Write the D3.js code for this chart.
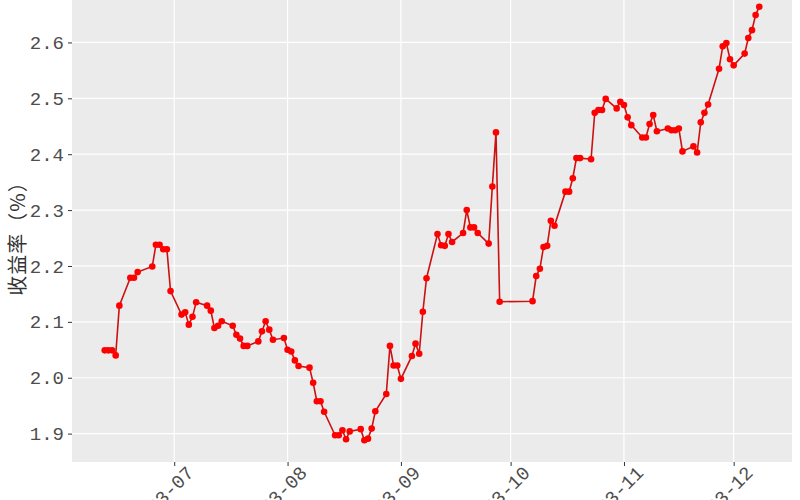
<!DOCTYPE html>
<html>
<head>
<meta charset="utf-8">
<script src="https://cdn.jsdelivr.net/npm/d3@7"></script>
<style>
  body { margin: 0; background: #fff; }
  svg { display: block; }
</style>
</head>
<body>
<div id="chart"></div>
<script>
// 日期与收益率
const fechas = [
  "2023-06-12","2023-06-13","2023-06-14","2023-06-15","2023-06-16","2023-06-19","2023-06-20","2023-06-21",
  "2023-06-25","2023-06-26","2023-06-27","2023-06-28","2023-06-29","2023-06-30",
  "2023-07-03","2023-07-04","2023-07-05","2023-07-06","2023-07-07",
  "2023-07-10","2023-07-11","2023-07-12","2023-07-13","2023-07-14",
  "2023-07-17","2023-07-18","2023-07-19","2023-07-20","2023-07-21",
  "2023-07-24","2023-07-25","2023-07-26","2023-07-27","2023-07-28",
  "2023-07-31","2023-08-01","2023-08-02","2023-08-03","2023-08-04",
  "2023-08-07","2023-08-08","2023-08-09","2023-08-10","2023-08-11",
  "2023-08-14","2023-08-15","2023-08-16","2023-08-17","2023-08-18",
  "2023-08-21","2023-08-22","2023-08-23","2023-08-24","2023-08-25",
  "2023-08-28","2023-08-29","2023-08-30","2023-08-31","2023-09-01",
  "2023-09-04","2023-09-05","2023-09-06","2023-09-07","2023-09-08",
  "2023-09-11","2023-09-12","2023-09-13","2023-09-14","2023-09-15",
  "2023-09-18","2023-09-19","2023-09-20","2023-09-21","2023-09-22",
  "2023-09-25","2023-09-26","2023-09-27","2023-09-28",
  "2023-10-07","2023-10-08","2023-10-09","2023-10-10","2023-10-11","2023-10-12","2023-10-13",
  "2023-10-16","2023-10-17","2023-10-18","2023-10-19","2023-10-20",
  "2023-10-23","2023-10-24","2023-10-25","2023-10-26","2023-10-27",
  "2023-10-30","2023-10-31","2023-11-01","2023-11-02","2023-11-03",
  "2023-11-06","2023-11-07","2023-11-08","2023-11-09","2023-11-10",
  "2023-11-13","2023-11-14","2023-11-15","2023-11-16","2023-11-17",
  "2023-11-20","2023-11-21","2023-11-22","2023-11-23","2023-11-24",
  "2023-11-27","2023-11-28","2023-11-29","2023-11-30","2023-12-01",
  "2023-12-04","2023-12-05","2023-12-06","2023-12-07","2023-12-08"
];
const rendimientos = [
  2.049,2.049,2.049,2.040,2.129,2.179,2.179,2.189,
  2.199,2.238,2.238,2.230,2.230,2.155,
  2.113,2.117,2.095,2.109,2.135,
  2.129,2.120,2.089,2.093,2.101,
  2.093,2.077,2.070,2.057,2.057,
  2.065,2.083,2.101,2.086,2.068,
  2.071,2.050,2.047,2.031,2.021,
  2.018,1.991,1.958,1.958,1.939,
  1.897,1.897,1.906,1.890,1.904,
  1.908,1.888,1.891,1.909,1.940,
  1.971,2.057,2.022,2.022,1.998,
  2.039,2.061,2.043,2.118,2.178,
  2.257,2.237,2.236,2.257,2.243,
  2.259,2.300,2.269,2.269,2.259,
  2.240,2.342,2.439,2.136,
  2.137,2.182,2.195,2.234,2.236,2.281,2.272,
  2.333,2.333,2.357,2.393,2.393,
  2.391,2.474,2.479,2.479,2.499,
  2.482,2.494,2.488,2.466,2.452,
  2.430,2.430,2.454,2.470,2.441,
  2.446,2.443,2.443,2.446,2.405,
  2.414,2.403,2.457,2.474,2.489,
  2.553,2.593,2.599,2.570,2.559,
  2.580,2.608,2.622,2.649,2.664
];
const yTicks = [1.9, 2.0, 2.1, 2.2, 2.3, 2.4, 2.5, 2.6];
const xTicks = ["2023-07-01","2023-08-01","2023-09-01","2023-10-01","2023-11-01","2023-12-01"];

const width = 800;
const height = 500;
const margin = { top: -15, right: 8, bottom: 38, left: 72 };
const fuente = "'Noto Sans CJK SC', 'Noto Sans', sans-serif";
const fuenteNum = "'Liberation Mono', 'DejaVu Sans Mono', monospace";

const parse = d3.timeParse("%Y-%m-%d");
const datos = fechas.map((f, i) => ({ fecha: parse(f), valor: rendimientos[i] }));

const svg = d3.select("#chart")
  .append("svg")
  .attr("width", width)
  .attr("height", height);

// escalas con expansión 5% estilo ggplot
const [x0, x1] = d3.extent(datos, d => d.fecha);
const padX = (x1 - x0) * 0.05;
const xScale = d3.scaleTime()
  .domain([new Date(+x0 - padX), new Date(+x1 + padX)])
  .range([margin.left, width - margin.right]);

const [y0, y1] = d3.extent(datos, d => d.valor);
const padY = (y1 - y0) * 0.05;
const yScale = d3.scaleLinear()
  .domain([y0 - padY, y1 + padY])
  .range([height - margin.bottom, margin.top]);

// panel
svg.append("rect")
  .attr("x", margin.left)
  .attr("y", margin.top)
  .attr("width", width - margin.right - margin.left)
  .attr("height", height - margin.bottom - margin.top)
  .attr("fill", "#EBEBEB");

// rejilla
svg.append("g")
  .selectAll("line")
  .data(yTicks)
  .join("line")
  .attr("x1", margin.left)
  .attr("x2", width - margin.right)
  .attr("y1", d => yScale(d))
  .attr("y2", d => yScale(d))
  .attr("stroke", "#fff")
  .attr("stroke-width", 1.2);

svg.append("g")
  .selectAll("line")
  .data(xTicks.map(parse))
  .join("line")
  .attr("x1", d => xScale(d))
  .attr("x2", d => xScale(d))
  .attr("y1", margin.top)
  .attr("y2", height - margin.bottom)
  .attr("stroke", "#fff")
  .attr("stroke-width", 1.2);

// ejes
const yAxis = g => g
  .attr("transform", `translate(${margin.left},0)`)
  .call(d3.axisLeft(yScale).tickValues(yTicks).tickFormat(d3.format(".1f")).tickSize(4).tickPadding(4))
  .call(g => g.select(".domain").remove())
  .call(g => g.selectAll(".tick line").attr("stroke", "#333"))
  .call(g => g.selectAll(".tick text")
    .attr("fill", "#4d4d4d")
    .style("font-family", fuenteNum)
    .style("font-size", "19px"));

const xAxis = g => g
  .attr("transform", `translate(0,${height - margin.bottom})`)
  .call(d3.axisBottom(xScale).tickValues(xTicks.map(parse)).tickFormat(d3.timeFormat("%Y-%m")).tickSize(4))
  .call(g => g.select(".domain").remove())
  .call(g => g.selectAll(".tick line").attr("stroke", "#333"))
  .call(g => g.selectAll(".tick text")
    .attr("fill", "#4d4d4d")
    .style("font-family", fuenteNum)
    .style("font-size", "19px")
    .attr("text-anchor", "end")
    .attr("dy", null)
    .attr("y", 0)
    .attr("transform", "translate(20,12) rotate(-45)"));

svg.append("g").call(yAxis);
svg.append("g").call(xAxis);

// título del eje Y
svg.append("text")
  .attr("transform", `translate(25,${(margin.top + height - margin.bottom) / 2 + 10}) rotate(-90)`)
  .attr("text-anchor", "middle")
  .attr("fill", "#333")
  .style("font-family", fuente)
  .style("font-size", "20px")
  .style("letter-spacing", "1px")
  .text("收益率（%）");

// línea y puntos
const linea = d3.line()
  .x(d => xScale(d.fecha))
  .y(d => yScale(d.valor));

svg.append("path")
  .datum(datos)
  .attr("fill", "none")
  .attr("stroke", "#cc1111")
  .attr("stroke-width", 1.6)
  .attr("d", linea);

svg.append("g")
  .selectAll("circle")
  .data(datos)
  .join("circle")
  .attr("cx", d => xScale(d.fecha))
  .attr("cy", d => yScale(d.valor))
  .attr("r", 3.3)
  .attr("fill", "#ff0000");
</script>
</body>
</html>
